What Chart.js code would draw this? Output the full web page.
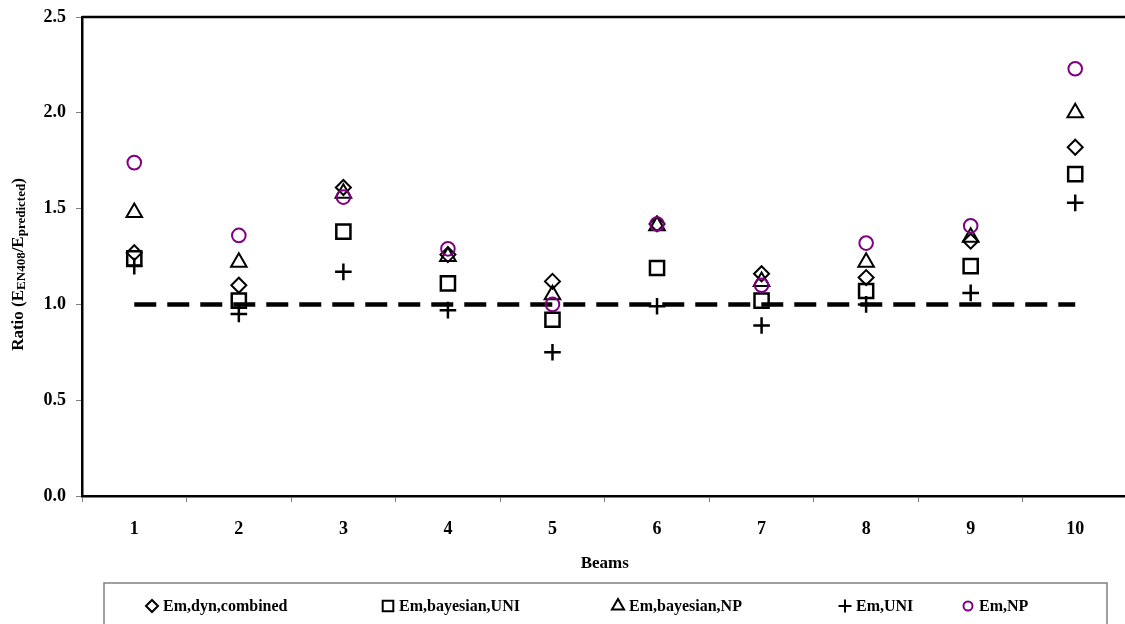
<!DOCTYPE html>
<html>
<head>
<meta charset="utf-8">
<script src="https://cdn.jsdelivr.net/npm/chart.js@4.4.1/dist/chart.umd.min.js"></script>
<style>
  html, body { margin: 0; padding: 0; background: #fff; overflow: hidden; }
</style>
</head>
<body>
<canvas id="myChart" width="1140" height="624"></canvas>
<script>
const beams = ["1", "2", "3", "4", "5", "6", "7", "8", "9", "10"];

// ratio E_EN408 / E_predicted per beam
const dynCombined = [1.27, 1.10, 1.61, 1.26, 1.12, 1.42, 1.16, 1.14, 1.33, 1.82];
const bayesianUni = [1.24, 1.02, 1.38, 1.11, 0.92, 1.19, 1.02, 1.07, 1.20, 1.68];
const bayesianNp = [1.48, 1.22, 1.58, 1.25, 1.05, 1.41, 1.12, 1.22, 1.35, 2.00];
const emUni = [1.20, 0.95, 1.17, 0.97, 0.75, 0.99, 0.89, 1.00, 1.06, 1.53];
const emNp = [1.74, 1.36, 1.56, 1.29, 1.00, 1.42, 1.10, 1.32, 1.41, 2.23];
const unity = [1, 1, 1, 1, 1, 1, 1, 1, 1, 1];

const yTicks = [0, 0.5, 1.0, 1.5, 2.0, 2.5];

const serif = "'Liberation Serif', 'Times New Roman', serif";
const purple = "#800080";

function markerSet(label, data, style, radius, width, color, order, legendRadius) {
  return {
    label: label,
    data: data,
    showLine: false,
    order: order,
    pointStyle: style,
    pointRadius: radius,
    pointHoverRadius: radius,
    pointBorderWidth: width,
    pointHoverBorderWidth: width,
    pointBorderColor: color,
    pointBackgroundColor: "rgba(0,0,0,0)",
    borderColor: color,
    backgroundColor: "rgba(0,0,0,0)",
    legendRadius: legendRadius,
  };
}

const data = {
  labels: beams,
  datasets: [
    markerSet("Em,dyn,combined", dynCombined, "rectRot", 7.5, 2, "#000", 5, 6),
    markerSet("Em,bayesian,UNI", bayesianUni, "rect", 10, 2.5, "#000", 4, 7.5),
    markerSet("Em,bayesian,NP", bayesianNp, "triangle", 9, 2, "#000", 3, 7),
    markerSet("Em,UNI", emUni, "cross", 8.3, 2.5, "#000", 2, 6.5),
    markerSet("Em,NP", emNp, "circle", 6.8, 2, purple, 1, 4.5),
    {
      label: "ratio = 1",
      data: unity,
      order: 9,
      borderColor: "#000",
      borderWidth: 4.5,
      borderDash: [22, 11],
      borderCapStyle: "butt",
      pointRadius: 0,
      pointHoverRadius: 0,
      tension: 0,
      fill: false,
      inLegend: false,
    },
  ],
};

// legend item marker centres (x), as laid out in the original figure
const legendX = [152, 388, 618, 845, 968];

const framePlugin = {
  id: "frame",
  afterDraw(chart) {
    const ctx = chart.ctx;
    const area = chart.chartArea;
    ctx.save();

    // top / right edge of the plot frame
    ctx.strokeStyle = "#000";
    ctx.lineWidth = 2.5;
    ctx.beginPath();
    ctx.moveTo(area.left, area.top);
    ctx.lineTo(area.right, area.top);
    ctx.lineTo(area.right, area.bottom);
    ctx.stroke();

    // y title with subscripts
    const parts = [
      ["Ratio (E", 17, 0],
      ["EN408", 13, 3],
      ["/E", 17, 0],
      ["predicted", 13, 3],
      [")", 17, 0],
    ];
    ctx.translate(19, (area.top + area.bottom) / 2 + 8);
    ctx.rotate(-Math.PI / 2);
    ctx.fillStyle = "#000";
    ctx.textBaseline = "middle";
    ctx.textAlign = "left";
    let total = 0;
    parts.forEach((p) => {
      ctx.font = "bold " + p[1] + "px " + serif;
      total += ctx.measureText(p[0]).width;
    });
    let x = -total / 2;
    parts.forEach((p) => {
      ctx.font = "bold " + p[1] + "px " + serif;
      ctx.fillText(p[0], x, p[2]);
      x += ctx.measureText(p[0]).width;
    });
    ctx.setTransform(1, 0, 0, 1, 0, 0);

    // legend box
    ctx.strokeStyle = "#808080";
    ctx.lineWidth = 1.5;
    ctx.strokeRect(104, 583, 1003, 60);

    const y = 606;
    ctx.font = "bold 16px " + serif;
    ctx.textBaseline = "middle";
    let k = 0;
    chart.data.datasets.forEach((ds) => {
      if (ds.inLegend === false) return;
      const cx = legendX[k++];
      ctx.strokeStyle = ds.pointBorderColor;
      ctx.fillStyle = "rgba(0,0,0,0)";
      ctx.lineWidth = 2;
      Chart.helpers.drawPoint(ctx, {
        pointStyle: ds.pointStyle,
        radius: ds.legendRadius,
        rotation: 0,
        borderWidth: 2,
      }, cx, y);
      ctx.fillStyle = "#000";
      ctx.fillText(ds.label, cx + 11, y + 1);
    });

    ctx.restore();
  },
};

const tickFont = { family: serif, size: 18, weight: "bold" };

const config = {
  type: "line",
  data: data,
  options: {
    responsive: false,
    animation: false,
    layout: { padding: { left: 0, top: 17, right: 8, bottom: 50 } },
    plugins: {
      legend: { display: false },
      tooltip: { enabled: false },
    },
    scales: {
      x: {
        offset: true,
        grid: { offset: true, drawOnChartArea: false, tickLength: 6, color: "#808080" },
        border: { color: "#000", width: 2.5 },
        ticks: { color: "#000", font: tickFont, padding: 17, maxRotation: 0 },
        title: {
          display: true,
          text: "Beams",
          color: "#000",
          font: { family: serif, size: 17, weight: "bold" },
          padding: { top: 4, bottom: 0 },
        },
        afterFit(scale) {
          scale.height = 78;
        },
      },
      y: {
        min: 0,
        max: 2.5,
        afterBuildTicks(scale) {
          scale.ticks = yTicks.map((v) => ({ value: v }));
        },
        grid: { drawOnChartArea: false, tickLength: 6, color: "#808080" },
        border: { color: "#000", width: 2.5 },
        ticks: {
          color: "#000",
          font: tickFont,
          padding: 10,
          callback: (v) => Number(v).toFixed(1),
        },
        afterFit(scale) {
          scale.width = 82;
          scale.paddingTop = 0;
          scale.paddingBottom = 0;
        },
      },
    },
  },
  plugins: [framePlugin],
};

const myChart = new Chart(document.getElementById("myChart"), config);
</script>
</body>
</html>
